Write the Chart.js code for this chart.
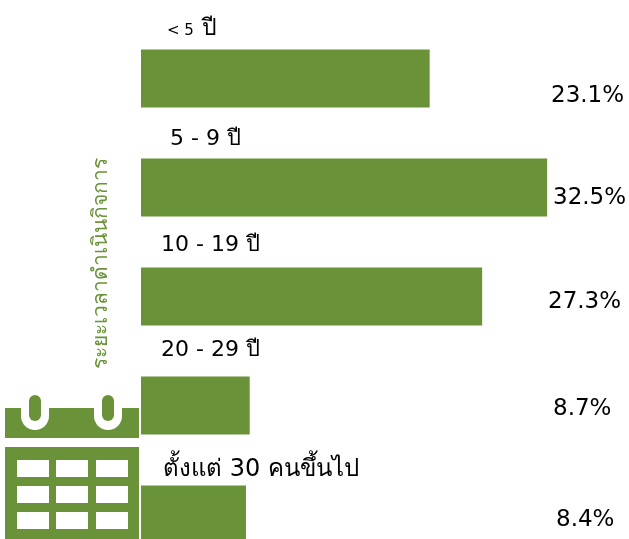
<!DOCTYPE html>
<html lang="th">
<head>
    <meta charset="UTF-8">
    <title>ระยะเวลาดำเนินกิจการ</title>
    <script src="https://cdn.jsdelivr.net/npm/chart.js"></script>
    <style>
        html, body { margin: 0; padding: 0; background: #fff; width: 629px; height: 539px; overflow: hidden; }
        #wrap { position: relative; width: 629px; height: 569px; }
    </style>
</head>
<body>
    <div id="wrap"><canvas id="durationChart"></canvas></div>
    <script>
        const categories = ['< 5 ปี', '5 - 9 ปี', '10 - 19 ปี', '20 - 29 ปี', 'ตั้งแต่ 30 คนขึ้นไป'];
        const values = [23.1, 32.5, 27.3, 8.7, 8.4];
        const axisTitle = 'ระยะเวลาดำเนินกิจการ';

        const green = '#6a9339';
        const fontName = '"DejaVu Sans", "Noto Sans", sans-serif';

        // label placement, relative to the centre of each bar
        const catLabelX = [167, 170, 161, 161, 163];
        const catLabelDy = [-44, -43, -46, -50, -39];
        const catLabelSize = [15, 22, 22, 22, 24];
        const valueLabelX = [551, 553, 548, 553, 556];
        const valueLabelDy = [23, 16, 11, 9, 11];

        const labelsPlugin = {
            id: 'labels',
            afterDraw(chart) {
                const ctx = chart.ctx;
                const y = chart.scales.y;
                ctx.save();
                ctx.fillStyle = '#000';
                ctx.textBaseline = 'alphabetic';
                ctx.textAlign = 'left';
                categories.forEach((c, i) => {
                    const cy = y.getPixelForValue(i);
                    if (i === 0) {
                        // the first label has a smaller number than its unit
                        const parts = c.split(' ปี');
                        ctx.font = catLabelSize[i] + 'px ' + fontName;
                        const w = ctx.measureText(parts[0] + ' ').width;
                        ctx.fillText(parts[0], catLabelX[i], cy + catLabelDy[i]);
                        ctx.font = '23px ' + fontName;
                        ctx.fillText('ปี', catLabelX[i] + w + 3, cy + catLabelDy[i]);
                    } else {
                        ctx.font = catLabelSize[i] + 'px ' + fontName;
                        ctx.fillText(c, catLabelX[i], cy + catLabelDy[i]);
                    }
                    ctx.font = '23px ' + fontName;
                    ctx.fillText(values[i].toFixed(1) + '%', valueLabelX[i], cy + valueLabelDy[i]);
                });
                // rotated title
                ctx.translate(107, 263.5);
                ctx.rotate(-Math.PI / 2);
                ctx.textAlign = 'center';
                ctx.fillStyle = green;
                ctx.font = '21px ' + fontName;
                ctx.fillText(axisTitle, 0, 0);
                ctx.restore();
                drawCalendar(ctx);
            }
        };

        function drawCalendar(ctx) {
            ctx.save();
            ctx.fillStyle = green;
            ctx.fillRect(5, 408, 134, 30);
            ctx.fillRect(5, 447, 134, 92);
            [35, 108].forEach(x => {
                ctx.fillStyle = '#fff';
                ctx.beginPath();
                ctx.moveTo(x - 14, 408);
                ctx.lineTo(x + 14, 408);
                ctx.arc(x, 416, 14, 0, Math.PI);
                ctx.closePath();
                ctx.fill();
                ctx.fillStyle = green;
                ctx.beginPath();
                ctx.roundRect(x - 6, 395, 12, 26, 6);
                ctx.fill();
            });
            ctx.fillStyle = '#fff';
            [17, 56, 96].forEach(x => {
                [460, 486, 512].forEach(y => ctx.fillRect(x, y, 32, 17));
            });
            ctx.restore();
        }

        new Chart(document.getElementById('durationChart').getContext('2d'), {
            type: 'bar',
            data: {
                labels: categories,
                datasets: [{
                    data: values,
                    backgroundColor: green,
                    categoryPercentage: 1,
                    barPercentage: 0.53
                }]
            },
            options: {
                indexAxis: 'y',
                responsive: true,
                maintainAspectRatio: false,
                animation: false,
                layout: { padding: { left: 141, top: 24, right: 0, bottom: 0 } },
                plugins: { legend: { display: false }, tooltip: { enabled: false } },
                scales: {
                    x: { display: false, min: 0, max: 39.05 },
                    y: { display: false }
                }
            },
            plugins: [labelsPlugin]
        });
    </script>
</body>
</html>
